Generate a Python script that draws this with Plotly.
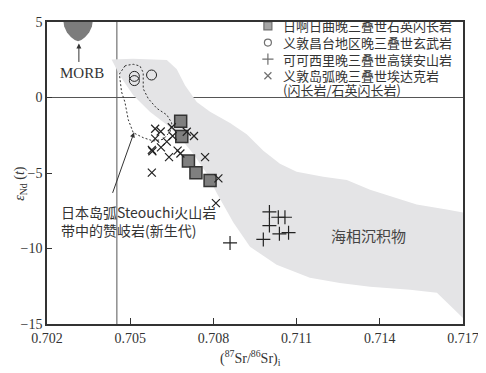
import plotly.graph_objects as go

# 日啊日曲 quartz diorite (squares)
sq_x = [0.70682, 0.70686, 0.70710, 0.70737, 0.70788]
sq_y = [-1.58, -2.59, -4.21, -4.99, -5.50]

# 义敦昌台 basalt (open circles)
ci_x = [0.70515, 0.70515, 0.70577]
ci_y = [1.40, 1.12, 1.49]

# 可可西里 high-Mg andesite (plus)
pl_x = [0.70860, 0.70980, 0.71002, 0.71034, 0.71058, 0.71002, 0.71038, 0.71071]
pl_y = [-9.63, -9.40, -7.58, -7.93, -7.93, -8.48, -9.03, -8.95]

# 义敦岛弧 adakite (x)
xx_x = [0.70590, 0.70610, 0.70590, 0.70578, 0.70580, 0.70611, 0.70632, 0.70650, 0.70653,
        0.70704, 0.70730, 0.70640, 0.70671, 0.70681, 0.70770, 0.70578, 0.70818, 0.70809]
xx_y = [-2.07, -2.25, -2.72, -3.47, -3.56, -3.30, -2.92, -1.97, -2.55,
        -2.27, -2.55, -3.95, -3.52, -3.71, -3.95, -4.97, -5.36, -7.00]

# marine sediment field
sed_x = [0.70433, 0.70511, 0.70632, 0.70668, 0.70698, 0.70740, 0.70788, 0.70860, 0.70920,
         0.70980, 0.71040, 0.71100, 0.71196, 0.71281, 0.71365, 0.71461, 0.71533, 0.71641,
         0.71700, 0.71700, 0.71653, 0.71606, 0.71509, 0.71365, 0.71256, 0.71148, 0.71028,
         0.70932, 0.70872, 0.70812, 0.70776, 0.70728, 0.70680, 0.70632, 0.70571, 0.70511,
         0.70463, 0.70433]
sed_y = [2.52, 2.56, 2.48, 1.87, 0.79, -0.29, -0.94, -1.69, -2.44,
         -3.52, -4.39, -4.92, -5.25, -5.47, -6.11, -6.65, -7.08, -7.41,
         -7.62, -14.61, -13.77, -12.93, -12.73, -12.54, -12.28, -11.94, -11.07,
         -9.89, -8.27, -6.33, -5.03, -3.74, -2.66, -1.80, -0.94, 0.15,
         1.44, 2.52]

# Steouchi sanukitoid field (dashed)
st_x = [0.70481, 0.70461, 0.70469, 0.70481, 0.70493, 0.70511, 0.70547, 0.70583, 0.70619,
        0.70644, 0.70650, 0.70632, 0.70596, 0.70565, 0.70547, 0.70547, 0.70535, 0.70511,
        0.70487, 0.70481]
st_y = [2.09, 1.55, 0.36, -0.31, -1.47, -2.33, -2.66, -2.88, -2.77,
        -2.25, -1.69, -1.15, -0.72, -0.07, 0.58, 1.65, 2.09, 2.20,
        2.13, 2.09]

# MORB field
morb_x = [0.70258, 0.70262, 0.70272, 0.70286, 0.70300, 0.70312, 0.70324, 0.70338, 0.70352,
          0.70362, 0.70366]
morb_y = [5.2, 4.7, 4.3, 4.0, 3.8, 3.72, 3.8, 4.0, 4.3, 4.7, 5.2]

sr_ref = 0.70452
nd_ref = 0.0

x_ticks = [0.702, 0.705, 0.708, 0.711, 0.714, 0.717]
x_ticktext = ["0.702", "0.705", "0.708", "0.711", "0.714", "0.717"]
y_ticks = [5, 0, -5, -10, -15]

legend_names = ["日啊日曲晚三叠世石英闪长岩", "义敦昌台地区晚三叠世玄武岩",
                "可可西里晚三叠世高镁安山岩", "义敦岛弧晚三叠世埃达克岩",
                "(闪长岩/石英闪长岩)"]

cjk = "Noto Sans CJK SC"
serif = "Liberation Serif"
ink = "#333333"

fig = go.Figure()

fig.add_trace(go.Scatter(x=sed_x, y=sed_y, mode="lines", fill="toself",
                         fillcolor="#e4e4e6", line=dict(width=0), showlegend=False,
                         hoverinfo="skip"))
fig.add_trace(go.Scatter(x=morb_x, y=morb_y, mode="lines", fill="toself",
                         fillcolor="#7c7c7c", line=dict(width=0), showlegend=False,
                         hoverinfo="skip"))
fig.add_trace(go.Scatter(x=st_x, y=st_y, mode="lines",
                         line=dict(color=ink, width=1, dash="2px,2px"),
                         showlegend=False, hoverinfo="skip"))

sq_marker = dict(symbol="square", size=12, color="#7f7f7f", line=dict(color=ink, width=1.5))
ci_marker = dict(symbol="circle-open", size=10, color="#222222", line=dict(width=1))
pl_marker = dict(symbol="cross-thin", size=10, color="#222222", line=dict(width=1.2, color="#222222"))
xx_marker = dict(symbol="x-thin", size=8, color="#222222", line=dict(width=1.2, color="#222222"))

fig.add_trace(go.Scatter(x=sq_x, y=sq_y, mode="markers", marker=sq_marker, showlegend=False))
fig.add_trace(go.Scatter(x=ci_x, y=ci_y, mode="markers", marker=ci_marker, showlegend=False))
fig.add_trace(go.Scatter(x=pl_x, y=pl_y, mode="markers", marker=pl_marker, showlegend=False))
fig.add_trace(go.Scatter(x=xx_x, y=xx_y, mode="markers", marker=xx_marker, showlegend=False))

# hand-made legend on an overlay axis (0..1 in both directions)
leg_y = [0.987, 0.932, 0.877, 0.822, 0.777]
leg_sym_x = 0.531
leg_txt_x = 0.562
fig.add_trace(go.Scatter(x=[leg_sym_x] * 4, y=leg_y[:4], mode="markers",
                         xaxis="x2", yaxis="y2", showlegend=False, hoverinfo="skip",
                         marker=dict(symbol=["square", "circle-open", "cross-thin", "x-thin"],
                                     size=[8, 7, 8, 7], color=["#7f7f7f", ink, ink, ink],
                                     line=dict(color=ink, width=1.2))))
for name, yy in zip(legend_names, leg_y):
    fig.add_annotation(xref="paper", yref="paper", x=leg_txt_x, y=yy, text=name,
                       xanchor="left", yanchor="middle", showarrow=False,
                       font=dict(family=cjk, size=13, color=ink))

fig.add_shape(type="line", x0=sr_ref, x1=sr_ref, y0=-15, y1=5,
              line=dict(color="#555555", width=1), layer="below")
fig.add_shape(type="line", x0=0.702, x1=0.717, y0=nd_ref, y1=nd_ref,
              line=dict(color="#555555", width=1), layer="below")

fig.add_annotation(x=0.70315, y=3.58, ax=0, ay=20, text="", showarrow=True,
                   arrowhead=2, arrowsize=1, arrowwidth=1, arrowcolor=ink)
fig.add_annotation(x=0.70326, y=1.63, text="MORB", showarrow=False,
                   font=dict(family=serif, size=15, color=ink))
fig.add_annotation(x=0.70514, y=-2.31, ax=-22, ay=62, text="", showarrow=True,
                   arrowhead=2, arrowsize=1, arrowwidth=1, arrowcolor=ink)
fig.add_annotation(x=0.70243, y=-8.15, xanchor="left", yanchor="middle", align="left",
                   text="日本岛弧Steouchi火山岩<br>带中的赞岐岩(新生代)", showarrow=False,
                   font=dict(family=cjk, size=14, color=ink))
fig.add_annotation(x=0.71359, y=-9.17, text="海相沉积物", showarrow=False,
                   font=dict(family=cjk, size=15, color="#444444"))

fig.add_annotation(xref="paper", yref="paper", x=-0.089, y=0.466, textangle=-90,
                   text="<i>ε</i><sub>Nd</sub> (<i>t</i>)", showarrow=False,
                   font=dict(family=serif, size=14, color=ink))
fig.add_annotation(xref="paper", yref="paper", x=0.488, y=-0.112, yanchor="middle",
                   text="(<sup>87</sup>Sr/<sup>86</sup>Sr)<sub>i</sub>", showarrow=False,
                   font=dict(family=serif, size=14, color=ink))

# page body adds an 8px margin on the left/top, so the figure is shifted by that much
fig.update_layout(
    width=478, height=365,
    margin=dict(l=39, r=23, t=7, b=49),
    plot_bgcolor="white", paper_bgcolor="white",
    showlegend=False,
    xaxis=dict(range=[0.702, 0.717], tickvals=x_ticks, ticktext=x_ticktext,
               showgrid=False, zeroline=False, showline=True, mirror=True,
               linecolor=ink, linewidth=1.5, ticks="inside", ticklen=6,
               tickcolor=ink, tickfont=dict(family=serif, size=14, color=ink)),
    yaxis=dict(range=[-15, 5], tickvals=y_ticks, showgrid=False, zeroline=False,
               showline=True, mirror=True, linecolor=ink, linewidth=1.5,
               ticks="inside", ticklen=5, tickcolor=ink,
               tickfont=dict(family=serif, size=14, color=ink)),
    xaxis2=dict(range=[0, 1], overlaying="x", visible=False, fixedrange=True),
    yaxis2=dict(range=[0, 1], overlaying="y", visible=False, fixedrange=True),
)

fig.write_html("out.html")
